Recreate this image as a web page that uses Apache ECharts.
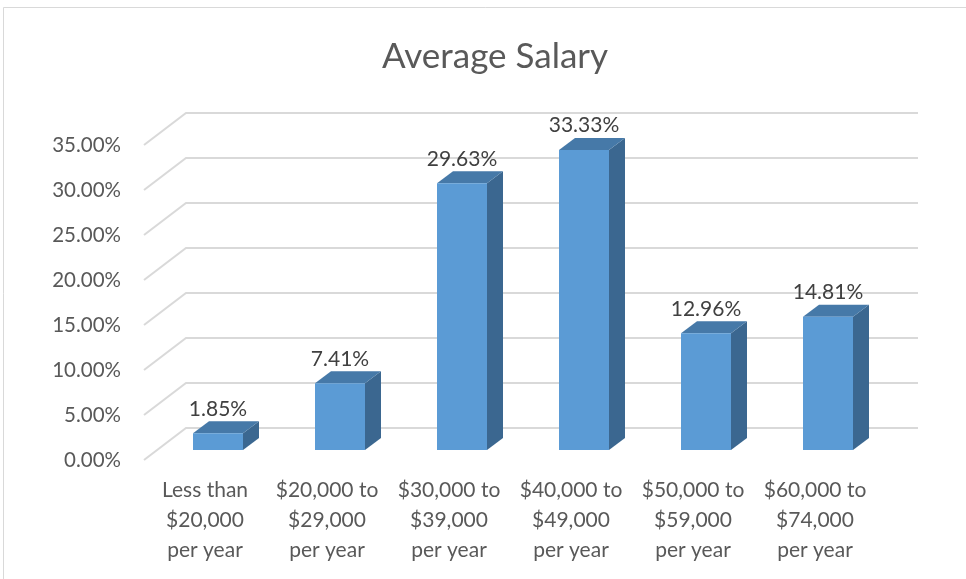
<!DOCTYPE html>
<html>
<head>
<meta charset="utf-8">
<script src="https://cdn.jsdelivr.net/npm/echarts@6/dist/echarts.min.js"></script>
<style>html,body{margin:0;padding:0;background:#fff}#c{width:966px;height:579px}</style>
</head>
<body>
<div id="c"></div>
<script>
var titleText = 'Average Salary';
var categories = ['Less than\n$20,000\nper year', '$20,000 to\n$29,000\nper year', '$30,000 to\n$39,000\nper year', '$40,000 to\n$49,000\nper year', '$50,000 to\n$59,000\nper year', '$60,000 to\n$74,000\nper year'];
var values = [1.85, 7.41, 29.63, 33.33, 12.96, 14.81];
var yTicks = [0, 5, 10, 15, 20, 25, 30, 35];

var FONT = 'Lato, "Open Sans", sans-serif';
var chart = echarts.init(document.getElementById('c'), null, {renderer: 'canvas'});

// 3D projection offsets (pixels)
var WALL_DX = 42, WALL_DY = -32;   // front plane -> back wall
var BAR_DX = 13, BAR_DY = -10;     // front plane -> bar front face
var BAR_W = 50, DEPTH_DX = 16, DEPTH_DY = -12;

var option = {
  animation: false,
  backgroundColor: '#fff',
  title: {
    text: titleText, left: 490, top: 34, textAlign: 'center',
    textStyle: {fontFamily: FONT, fontSize: 35, fontWeight: 'normal', color: '#595959'}
  },
  graphic: [{
    type: 'rect', silent: true, z: -10,
    shape: {x: 3.5, y: 7.5, width: 1200, height: 1200},
    style: {fill: 'none', stroke: '#d9d9d9', lineWidth: 1}
  }],
  grid: {left: 144, right: 90, top: 145, bottom: 119, containLabel: false},
  xAxis: {
    type: 'category', data: categories,
    axisLine: {show: false}, axisTick: {show: false},
    axisLabel: {fontFamily: FONT, fontSize: 21, color: '#595959', lineHeight: 30, margin: 15, interval: 0}
  },
  yAxis: {
    type: 'value', min: 0, max: 35, interval: 5,
    axisLine: {show: false}, axisTick: {show: false}, splitLine: {show: false},
    axisLabel: {fontFamily: FONT, fontSize: 20.5, color: '#595959', margin: 23,
      formatter: function (v) { return v.toFixed(2) + '%'; }}
  },
  series: [{
    type: 'custom', z: 1, silent: true,
    data: yTicks.map(function (t) { return [0, t]; }),
    encode: {x: 0, y: 1},
    renderItem: function (params, api) {
      var cs = params.coordSys;
      var y = api.coord([0, api.value(1)])[1];
      return {
        type: 'polyline',
        shape: {points: [[cs.x, y], [cs.x + WALL_DX, y + WALL_DY], [cs.x + cs.width + WALL_DX, y + WALL_DY]]},
        style: {stroke: '#d9d9d9', lineWidth: 2, fill: null}
      };
    }
  }, {
    type: 'custom', z: 2, silent: true,
    data: values.map(function (v, i) { return [i, v]; }),
    encode: {x: 0, y: 1},
    renderItem: function (params, api) {
      var i = api.value(0), v = api.value(1);
      var top = api.coord([i, v]);
      var base = api.coord([i, 0]);
      var cx = top[0] + BAR_DX;
      var x1 = cx - BAR_W / 2, x2 = cx + BAR_W / 2;
      var yT = top[1] + BAR_DY, yB = base[1] + BAR_DY;
      return {
        type: 'group',
        children: [
          {type: 'polygon', shape: {points: [[x2, yT], [x2 + DEPTH_DX, yT + DEPTH_DY], [x2 + DEPTH_DX, yB + DEPTH_DY], [x2, yB]]},
            style: {fill: '#3b6790'}},
          {type: 'polygon', shape: {points: [[x1, yT], [x2, yT], [x2 + DEPTH_DX, yT + DEPTH_DY], [x1 + DEPTH_DX, yT + DEPTH_DY]]},
            style: {fill: '#4679a8'}},
          {type: 'rect', shape: {x: x1, y: yT, width: BAR_W, height: yB - yT},
            style: {fill: '#5b9bd5'}},
          {type: 'text', x: cx, y: yT + DEPTH_DY - 2,
            style: {text: v.toFixed(2) + '%', align: 'center', verticalAlign: 'bottom',
              fontFamily: FONT, fontSize: 21, fill: '#404040'}}
        ]
      };
    }
  }]
};
chart.setOption(option);
</script>
</body>
</html>
